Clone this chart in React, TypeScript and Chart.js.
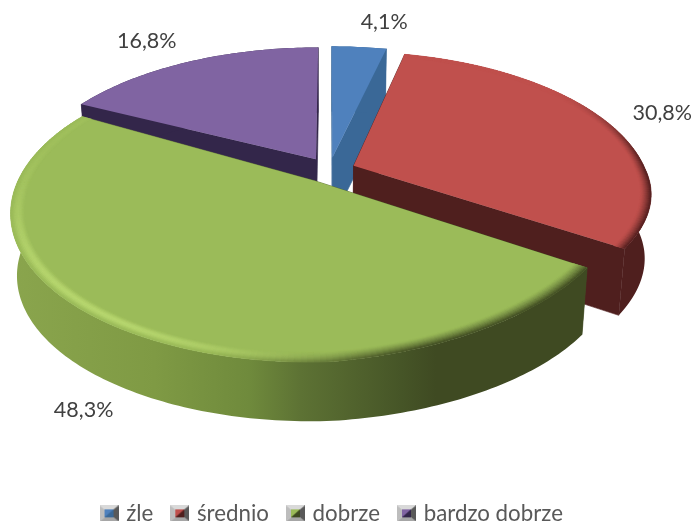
import React, { useEffect, useRef } from "react";
import { Chart, registerables } from "chart.js";

Chart.register(...registerables);

const categories = ["źle", "średnio", "dobrze", "bardzo dobrze"];
const shares = [4.1, 30.8, 48.3, 16.8];
const valueLabels = ["4,1%", "30,8%", "48,3%", "16,8%"];
const faceColors = ["#4f81bd", "#c0504d", "#9bbb59", "#8064a2"];
const wallColors = ["#3a6897", "#4f1f1e", "#3f4a22", "#33264a"];

// projection of the tilted disc
const CX = 329, CY = 170, RX = 292, RY = 139, P = 0.206, EXPLODE = 0.09, DEPTH = 63, SHRINK = 0.98, SKEW = 16;
const LABEL_SHIFT: [number, number][] = [[25, -25], [55, -9], [-34, 83], [-48, -19]];
const DRAW_ORDER = [0, 3, 1, 2];
const FONT = "Lato";
const TEXT_COLOR = "#404040";

type Pt = [number, number];
const hex = (h: string) => [1, 3, 5].map((i) => parseInt(h.slice(i, i + 2), 16));
const mix = (a: string, b: string, t: number) => {
  const A = hex(a), B = hex(b);
  return `rgb(${A.map((v, i) => Math.round(v + (B[i] - v) * t)).join(",")})`;
};
const smooth = (a: number, b: number, x: number) => {
  const t = Math.min(1, Math.max(0, (x - a) / (b - a)));
  return t * t * (3 - 2 * t);
};
const clamp01 = (x: number) => Math.min(1, Math.max(0, x));

// the reference's camera squeezes the far half a little
function bend(a: number, i: number) {
  if (i <= 1) {
    if (a <= 15) return a - (1.6 * a) / 15;
    if (a < 70) return a - (1.6 * (70 - a)) / 55;
  }
  if (i === 3 && a < 329.5) return a - (3 * (329.5 - a)) / 30;
  return a;
}

function project(aDeg: number, r: number, midDeg: number, i: number): Pt {
  const a = (bend(aDeg, i) * Math.PI) / 180, m = (midDeg * Math.PI) / 180;
  const u = r * Math.sin(a) + EXPLODE * Math.sin(m);
  const v = -r * Math.cos(a) - EXPLODE * Math.cos(m);
  const s = 1 / (1 - P * v);
  return [CX + RX * u * s, CY + RY * v * s - SKEW * Math.max(u, 0) * Math.max(v, 0)];
}
const lower = (p: Pt): Pt => {
  const extra = 6 * clamp01((p[0] - CX) / 260) * clamp01((p[1] - CY) / 90);
  return [CX + SHRINK * (p[0] - CX), CY + DEPTH + extra + SHRINK * (p[1] - CY)];
};

function quad(ctx: CanvasRenderingContext2D, a: Pt, b: Pt, c: Pt, d: Pt, fill: string | CanvasGradient) {
  ctx.beginPath();
  ctx.moveTo(a[0], a[1]); ctx.lineTo(b[0], b[1]); ctx.lineTo(c[0], c[1]); ctx.lineTo(d[0], d[1]);
  ctx.closePath();
  ctx.fillStyle = fill; ctx.strokeStyle = fill; ctx.lineWidth = 0.6;
  ctx.fill(); ctx.stroke();
}

function rimColor(i: number, a: number, t: number, base: string) {
  if (i === 2) {
    const dark = 1 - smooth(160, 200, a);
    const hi = 0.8 * smooth(170, 215, a) * (1 - smooth(225, 285, a) * 0.8);
    const c1 = mix(base, "#3f4a22", dark * Math.pow(t, 1.3));
    if (dark > 0.99) return c1;
    const rgb = c1.match(/\d+/g)!.map(Number);
    const h = "#" + rgb.map((v) => v.toString(16).padStart(2, "0")).join("");
    return mix(h, "#bedd74", hi * Math.pow(Math.sin(Math.PI * Math.min(1, t * 1.02)), 1.5));
  }
  if (i === 1) {
    const dark = smooth(50, 95, a);
    return mix(base, "#4f1f1e", dark * Math.pow(t, 1.4));
  }
  return base;
}

const piePlugin = {
  id: "tiltedPie",
  beforeDatasetsDraw(chart: any) {
    const ctx: CanvasRenderingContext2D = chart.ctx;
    const arcs = chart.getDatasetMeta(0).data;
    const toDeg = (r: number) => ((r + Math.PI / 2) * 180) / Math.PI;
    const greenWall = ctx.createLinearGradient(11, 0, 585, 0);
    greenWall.addColorStop(0, "#8aa54d");
    greenWall.addColorStop(0.25, "#7f9a44");
    greenWall.addColorStop(0.416, "#6f8a3c");
    greenWall.addColorStop(0.505, "#5d7234");
    greenWall.addColorStop(0.68, "#465527");
    greenWall.addColorStop(0.74, "#3f4a22");
    greenWall.addColorStop(1, "#3f4a22");
    for (const i of DRAW_ORDER) {
      const el = arcs[i];
      const start = toDeg(el.startAngle), end = toDeg(el.endAngle), mid = (start + end) / 2;
      const base = faceColors[i];
      const wall = i === 2 ? greenWall : wallColors[i];
      const n = Math.ceil(end - start);
      const ang = (k: number) => start + ((end - start) * k) / n;
      const apex = project(0, 0, mid, i);
      const first = project(start, 1, mid, i), last = project(end, 1, mid, i);
      quad(ctx, apex, first, lower(first), lower(apex), wall);
      quad(ctx, apex, last, lower(last), lower(apex), wall);
      ctx.beginPath();
      for (let k = 0; k <= n; k++) {
        const p = project(ang(k), 1, mid, i);
        if (k === 0) ctx.moveTo(p[0], p[1]); else ctx.lineTo(p[0], p[1]);
      }
      for (let k = n; k >= 0; k--) {
        const p = lower(project(ang(k), 1, mid, i));
        ctx.lineTo(p[0], p[1]);
      }
      ctx.closePath();
      ctx.fillStyle = wall;
      ctx.fill();
      ctx.beginPath();
      ctx.moveTo(apex[0], apex[1]);
      for (let k = 0; k <= n; k++) {
        const p = project(ang(k), 1, mid, i);
        ctx.lineTo(p[0], p[1]);
      }
      ctx.closePath();
      ctx.fillStyle = base;
      ctx.fill();
      if (i === 1 || i === 2) {
        const bands = 10, inner = i === 1 ? 0.965 : 0.955;
        for (let b = 0; b < bands; b++) {
          const r0 = inner + ((1 - inner) * b) / bands, r1 = inner + ((1 - inner) * (b + 1)) / bands;
          for (let k = 0; k < n; k++) {
            const a0 = ang(k), a1 = ang(k + 1);
            quad(ctx, project(a0, r0, mid, i), project(a1, r0, mid, i), project(a1, r1, mid, i), project(a0, r1, mid, i),
              rimColor(i, (a0 + a1) / 2, (b + 0.5) / bands, base));
          }
        }
      }
    }
    ctx.font = `21.5px ${FONT}`;
    ctx.fillStyle = TEXT_COLOR;
    ctx.textAlign = "center";
    ctx.textBaseline = "middle";
    arcs.forEach((el: any, i: number) => {
      const mid = (toDeg(el.startAngle) + toDeg(el.endAngle)) / 2;
      const p = project(mid, 1, mid, i);
      ctx.fillText(valueLabels[i], p[0] + LABEL_SHIFT[i][0], p[1] + LABEL_SHIFT[i][1]);
    });
    return false;
  },
};

function legendIcon(color: string, wall: string) {
  const c = document.createElement("canvas");
  c.width = 19; c.height = 16;
  const g = c.getContext("2d")!;
  const tri = (pts: number[], fill: string) => {
    g.beginPath();
    g.moveTo(pts[0], pts[1]);
    for (let i = 2; i < pts.length; i += 2) g.lineTo(pts[i], pts[i + 1]);
    g.closePath(); g.fillStyle = fill; g.fill();
  };
  tri([0, 0, 19, 0, 14, 4, 5, 4], "#d9d9d9");
  tri([0, 0, 5, 4, 5, 12, 0, 16], "#bdbdbd");
  tri([0, 16, 5, 12, 14, 12, 19, 16], "#a6a6a6");
  tri([19, 0, 14, 4, 14, 12, 19, 16], "#595959");
  g.fillStyle = color; g.fillRect(5, 4, 9, 8);
  tri([14, 4, 14, 12, 5, 12], wall);
  return c;
}

export default function App() {
  const ref = useRef<HTMLCanvasElement>(null);
  useEffect(() => {
    document.body.style.margin = "0";
    const icons = faceColors.map((c, i) => legendIcon(c, wallColors[i]));
    const chart = new Chart(ref.current!, {
      type: "pie",
      data: {
        labels: categories,
        datasets: [{ data: shares, backgroundColor: faceColors, borderWidth: 0 }],
      },
      plugins: [piePlugin],
      options: {
        responsive: false,
        animation: false,
        layout: { padding: { bottom: -13.5, right: 28 } },
        plugins: {
          tooltip: { enabled: false },
          legend: {
            position: "bottom",
            labels: {
              usePointStyle: true,
              pointStyleWidth: 12,
              padding: 20.5,
              color: "#595959",
              font: { family: FONT, size: 22.3 },
              generateLabels(c: any) {
                return (Chart as any).overrides.pie.plugins.legend.labels
                  .generateLabels(c)
                  .map((l: any, i: number) => ({ ...l, pointStyle: icons[i], fontColor: "#595959" }));
              },
            },
          },
        },
      },
    } as any);
    return () => chart.destroy();
  }, []);
  return <canvas ref={ref} width={694} height={521} style={{ display: "block" }} />;
}
